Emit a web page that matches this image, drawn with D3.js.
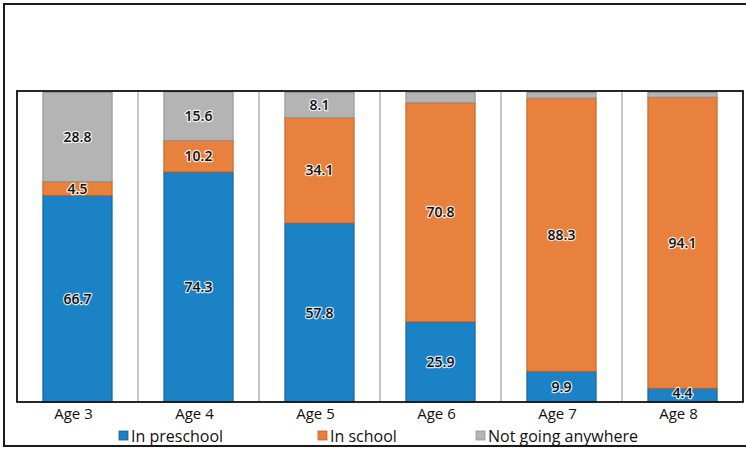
<!DOCTYPE html>
<html>
<head>
<meta charset="utf-8">
<script src="https://cdn.jsdelivr.net/npm/d3@7"></script>
<style>
  html, body { margin: 0; padding: 0; background: #fff; }
  svg { display: block; font-family: "Open Sans", "DejaVu Sans", sans-serif; }
</style>
</head>
<body>
<svg id="chart" width="746" height="449"></svg>
<script>
// Share of children by age and where they go (percent)
const categories = ["Age 3", "Age 4", "Age 5", "Age 6", "Age 7", "Age 8"];
const seriesNames = ["In preschool", "In school", "Not going anywhere"];
const inPreschool = [66.7, 74.3, 57.8, 25.9, 9.9, 4.4];
const inSchool = [4.5, 10.2, 34.1, 70.8, 88.3, 94.1];
const notGoing = [28.8, 15.6, 8.1, 3.3, 1.8, 1.5];
// values printed on each segment (null = no label)
const labelPreschool = ["66.7", "74.3", "57.8", "25.9", "9.9", "4.4"];
const labelSchool = ["4.5", "10.2", "34.1", "70.8", "88.3", "94.1"];
const labelNotGoing = ["28.8", "15.6", "8.1", null, null, null];

const fills = ["#1b82c6", "#e8813e", "#b4b4b4"];
const strokes = ["#13609a", "#c4611f", "#939393"];

const svg = d3.select("#chart");

const plot = { left: 17, right: 743, top: 91, bottom: 402 };

// outer frame (its right side runs past the canvas)
svg.append("rect")
  .attr("x", 4).attr("y", 4)
  .attr("width", 760).attr("height", 442)
  .attr("fill", "none").attr("stroke", "#1a1a1a").attr("stroke-width", 2);

const x = d3.scaleBand()
  .domain(categories)
  .range([plot.left, plot.right])
  .paddingInner(0.42)
  .paddingOuter(0.21);

const y = d3.scaleLinear()
  .domain([0, 100])
  .range([plot.bottom, plot.top + 1.5]);

// stack the three series
const rows = categories.map((c, i) => ({
  cat: c,
  "In preschool": inPreschool[i],
  "In school": inSchool[i],
  "Not going anywhere": notGoing[i]
}));
const stacked = d3.stack().keys(seriesNames)(rows);
const labelSets = [labelPreschool, labelSchool, labelNotGoing];

// grey separators between the age groups
const step = x.step();
const sepIdx = d3.range(1, categories.length);
svg.append("g").selectAll("line")
  .data(sepIdx)
  .join("line")
  .attr("x1", i => plot.left + i * step)
  .attr("x2", i => plot.left + i * step)
  .attr("y1", plot.top)
  .attr("y2", plot.bottom)
  .attr("stroke", "#b9b9b9")
  .attr("stroke-width", 1.6);

// bars
const layer = svg.append("g").selectAll("g")
  .data(stacked)
  .join("g")
  .attr("fill", (d, i) => fills[i])
  .attr("stroke", (d, i) => strokes[i]);

layer.selectAll("rect")
  .data(d => d)
  .join("rect")
  .attr("x", d => x(d.data.cat) + 0.5)
  .attr("width", x.bandwidth() - 1)
  .attr("y", d => y(d[1]))
  .attr("height", d => Math.max(0, y(d[0]) - y(d[1])))
  .attr("stroke-width", 1);

// segment value labels (kept just above the baseline for thin segments)
const labelG = svg.append("g")
  .attr("font-size", 14)
  .attr("font-weight", 600)
  .attr("text-anchor", "middle")
  .attr("fill", "#111");

stacked.forEach((s, si) => {
  s.forEach((d, ci) => {
    const txt = labelSets[si][ci];
    if (!txt) return;
    const cy = Math.min((y(d[0]) + y(d[1])) / 2, plot.bottom - 9);
    labelG.append("text")
      .attr("x", x(d.data.cat) + x.bandwidth() / 2)
      .attr("y", cy)
      .attr("dy", "0.36em")
      .attr("stroke", "rgba(255,255,255,0.8)")
      .attr("stroke-width", 2.5)
      .attr("paint-order", "stroke")
      .attr("stroke-linejoin", "round")
      .text(txt);
  });
});

// plot frame
svg.append("rect")
  .attr("x", plot.left).attr("y", plot.top)
  .attr("width", plot.right - plot.left)
  .attr("height", plot.bottom - plot.top)
  .attr("fill", "none")
  .attr("stroke", "#111")
  .attr("stroke-width", 1.8);

// category axis
const axis = svg.append("g")
  .attr("transform", `translate(-4,${plot.bottom})`)
  .call(d3.axisBottom(x).tickSize(0).tickPadding(6));
axis.select(".domain").remove();
axis.selectAll("text")
  .attr("font-family", "\"Open Sans\", sans-serif")
  .attr("font-size", 15)
  .attr("fill", "#111");

// legend
const legendX = [119, 318, 476];
const legend = svg.append("g").selectAll("g")
  .data(seriesNames)
  .join("g")
  .attr("transform", (d, i) => `translate(${legendX[i]},431)`);
legend.append("rect")
  .attr("width", 9).attr("height", 9)
  .attr("fill", (d, i) => fills[i])
  .attr("stroke", (d, i) => strokes[i])
  .attr("stroke-width", 0.8);
legend.append("text")
  .attr("x", 12)
  .attr("y", 10.5)
  .attr("font-size", 16)
  .attr("fill", "#111")
  .text(d => d);
</script>
</body>
</html>
